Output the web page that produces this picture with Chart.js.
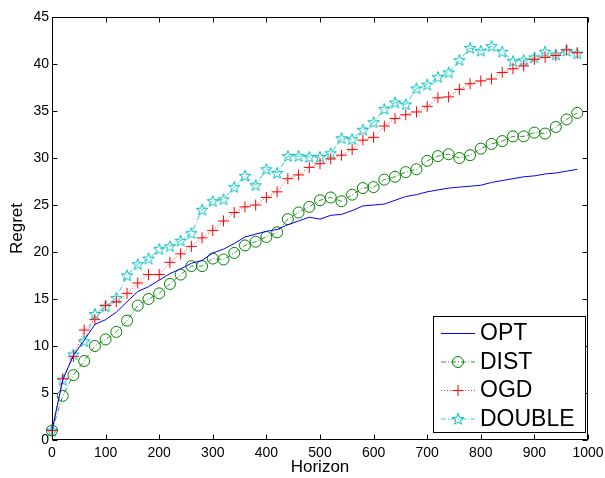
<!DOCTYPE html>
<html><head><meta charset="utf-8">
<script src="https://cdn.jsdelivr.net/npm/chart.js@4"></script>
<style>html,body{margin:0;padding:0;background:#fff;overflow:hidden}#wrap{width:605px;height:478px}canvas{display:block}</style>
</head><body><div id="wrap"><canvas id="c" width="605" height="478"></canvas></div>
<script>
const horizon = [0,20,40,60,80,100,120,140,160,180,200,220,240,260,280,300,320,340,360,380,400,420,440,460,480,500,520,540,560,580,600,620,640,660,680,700,720,740,760,780,800,820,840,860,880,900,920,940,960,980];
const opt = [1.0,6.4,9.0,10.6,12.3,12.8,13.6,14.7,15.8,16.3,17.0,17.7,18.2,18.8,19.1,19.9,20.3,20.9,21.6,21.9,22.2,22.4,22.9,23.3,23.7,23.5,23.9,24.0,24.4,24.9,25.0,25.1,25.5,25.9,26.1,26.4,26.6,26.8,26.9,27.0,27.1,27.4,27.6,27.8,28.0,28.1,28.3,28.4,28.6,28.8];
const dist = [1.0,4.7,6.9,8.4,10.0,10.7,11.5,12.7,14.3,15.0,15.6,16.6,17.6,18.5,18.5,19.3,19.2,19.9,20.7,21.1,21.6,22.1,23.5,24.2,24.8,25.5,25.8,25.4,26.1,26.8,26.9,27.7,28.0,28.5,28.8,29.7,30.2,30.4,30.0,30.3,31.0,31.5,31.8,32.3,32.3,32.7,32.6,33.3,34.1,34.8];
const ogd = [1.0,6.5,8.9,11.7,12.8,14.3,14.7,15.6,16.7,17.6,17.6,18.9,19.8,20.6,21.5,22.3,23.3,24.2,24.8,25.0,25.8,26.4,27.8,28.2,29.0,29.4,29.9,30.3,30.9,31.9,32.2,33.4,34.2,34.6,34.9,35.5,36.4,36.5,37.3,37.9,38.2,38.4,39.1,39.5,39.8,40.5,40.7,40.9,41.5,41.2];
const double_ = [1.0,6.4,9.1,10.5,13.4,14.2,15.1,17.5,18.7,19.3,20.3,20.6,21.2,22.0,24.5,25.4,25.6,26.9,28.1,27.1,28.8,28.4,30.2,30.2,30.1,30.1,30.5,32.1,32.0,33.0,33.8,35.2,35.9,35.7,37.4,37.8,38.6,39.1,40.4,41.7,41.4,41.9,41.3,40.3,40.4,40.7,41.3,41.0,41.4,41.1];
const seriesNames = ['OPT','DIST','OGD','DOUBLE'];
const xTicks = [0,100,200,300,400,500,600,700,800,900,1000];
const yTicks = [0,5,10,15,20,25,30,35,40,45];

const FONT = "'Liberation Sans', Arial, Helvetica, sans-serif";
const CYAN = '#00bfbf', GREEN = '#008000', RED = '#ff0000', BLUE = '#0000ff';

// pentagram marker
function makeStar(color){
  const s = 14, c = document.createElement('canvas');
  c.width = s; c.height = s;
  const g = c.getContext('2d');
  g.strokeStyle = color; g.lineWidth = 1;
  g.beginPath();
  const R = 6.0, r = 2.5, cx = s/2, cy = s/2 + 0.4;
  for (let i = 0; i < 10; i++) {
    const rad = i % 2 === 0 ? R : r;
    const a = -Math.PI/2 + i * Math.PI/5;
    const px = cx + rad*Math.cos(a), py = cy + rad*Math.sin(a);
    if (i === 0) g.moveTo(px, py); else g.lineTo(px, py);
  }
  g.closePath(); g.stroke();
  return c;
}
const starImg = makeStar(CYAN);

const pts = arr => horizon.map((h,i) => ({x:h, y:arr[i]}));

const datasets = [
  {label: seriesNames[0], data: pts(opt), borderColor: BLUE, borderWidth: 1, pointRadius: 0, clip: false},
  {label: seriesNames[1], data: pts(dist), borderColor: GREEN, borderWidth: 0.8, borderDash: [5,2,1,2],
   pointStyle: 'circle', pointRadius: 5.5, pointBorderColor: GREEN, pointBackgroundColor: 'rgba(0,0,0,0)', pointBorderWidth: 1, clip: false},
  {label: seriesNames[2], data: pts(ogd), borderColor: RED, borderWidth: 0.8, borderDash: [1,2],
   pointStyle: 'cross', pointRadius: 5.5, pointBorderColor: RED, pointBorderWidth: 1, clip: false},
  {label: seriesNames[3], data: pts(double_), borderColor: CYAN, borderWidth: 0.8, borderDash: [5,2,1,2],
   pointStyle: starImg, pointRadius: 6, clip: false}
];

function drawMarker(ctx, i, x, y){
  ctx.save();
  ctx.lineWidth = 1; ctx.setLineDash([]);
  if (i === 1) { ctx.strokeStyle = GREEN; ctx.beginPath(); ctx.arc(x, y, 5.5, 0, Math.PI*2); ctx.stroke(); }
  else if (i === 2) { ctx.strokeStyle = RED; ctx.beginPath(); ctx.moveTo(x-5.5,y); ctx.lineTo(x+5.5,y); ctx.moveTo(x,y-5.5); ctx.lineTo(x,y+5.5); ctx.stroke(); }
  else if (i === 3) { ctx.drawImage(starImg, x - starImg.width/2, y - starImg.height/2); }
  ctx.restore();
}

const framePlugin = {
  id: 'frame',
  beforeDatasetsDraw(chart) {
    const {ctx, chartArea: a, scales: {x, y}} = chart;
    ctx.save();
    ctx.strokeStyle = '#000'; ctx.lineWidth = 1;
    const L = Math.round(a.left) + 0.5, R = Math.round(a.right) - 0.5, T = Math.round(a.top) + 0.5, B = Math.round(a.bottom) - 0.5;
    ctx.strokeRect(L, T, R - L, B - T);
    const len = 5;
    ctx.beginPath();
    x.ticks.forEach(t => { const px = Math.round(x.getPixelForValue(t.value)) + 0.5; ctx.moveTo(px, B); ctx.lineTo(px, B - len); ctx.moveTo(px, T); ctx.lineTo(px, T + len); });
    y.ticks.forEach(t => { const py = Math.round(y.getPixelForValue(t.value)) + 0.5; ctx.moveTo(L, py); ctx.lineTo(L + len, py); ctx.moveTo(R, py); ctx.lineTo(R - len, py); });
    ctx.stroke();
    // x tick labels
    ctx.fillStyle = '#000';
    ctx.font = '14px ' + FONT;
    ctx.textAlign = 'center'; ctx.textBaseline = 'top';
    x.ticks.forEach(t => { ctx.fillText(String(t.value), x.getPixelForValue(t.value), a.bottom + 6); });
    ctx.restore();
  },
  afterDraw(chart) {
    const ctx = chart.ctx;
    ctx.save();
    ctx.fillStyle = '#fff';
    ctx.fillRect(433.5, 316.5, 152, 116);
    ctx.strokeStyle = '#000'; ctx.lineWidth = 1;
    ctx.strokeRect(433.5, 316.5, 152, 116);
    const rows = [333, 361.5, 390, 418.5];
    chart.data.datasets.forEach((ds, i) => {
      const yy = rows[i];
      ctx.save();
      ctx.strokeStyle = ds.borderColor; ctx.lineWidth = ds.borderWidth;
      ctx.setLineDash(ds.borderDash || []);
      ctx.beginPath(); ctx.moveTo(441, yy + 0.5); ctx.lineTo(475, yy + 0.5); ctx.stroke();
      ctx.restore();
      drawMarker(ctx, i, 458, yy + 0.5);
      ctx.fillStyle = '#000';
      ctx.font = '23px ' + FONT;
      ctx.textBaseline = 'middle'; ctx.textAlign = 'left';
      ctx.fillText(ds.label, 480, yy + 1);
    });
    ctx.restore();
  }
};

new Chart(document.getElementById('c'), {
  type: 'line',
  data: { datasets },
  options: {
    responsive: false,
    animation: false,
    events: [],
    layout: { padding: { top: 17, right: 17, left: 0, bottom: 0 } },
    plugins: { legend: { display: false }, tooltip: { enabled: false } },
    scales: {
      x: {
        type: 'linear', min: 0, max: 1000,
        afterFit: s => { s.height = 38; },
        afterBuildTicks: s => { s.ticks = xTicks.map(v => ({value: v})); },
        grid: { display: false, drawTicks: false },
        border: { display: false },
        ticks: { display: false },
        title: { display: true, text: 'Horizon', color: '#000', font: { family: FONT, size: 17 }, padding: { top: 0, bottom: 0 } }
      },
      y: {
        type: 'linear', min: 0, max: 45,
        afterFit: s => { s.width = 52; },
        afterBuildTicks: s => { s.ticks = yTicks.map(v => ({value: v})); },
        grid: { display: false, drawTicks: false },
        border: { display: false },
        ticks: { color: '#000', font: { family: FONT, size: 14 }, padding: 3, autoSkip: false, callback: v => String(v) },
        title: { display: true, text: 'Regret', color: '#000', font: { family: FONT, size: 17 }, padding: { top: 7, bottom: 0 } }
      }
    }
  },
  plugins: [framePlugin]
});
</script>
</body></html>
